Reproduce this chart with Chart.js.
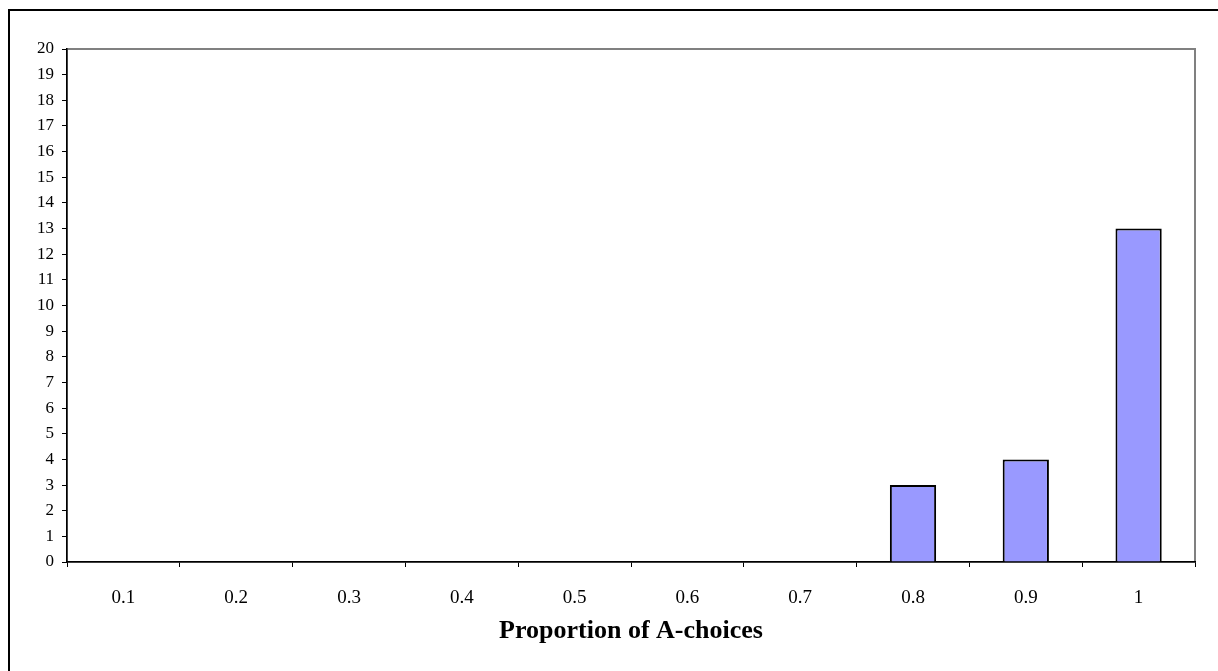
<!DOCTYPE html>
<html lang="en">
<head>
  <meta charset="UTF-8" />
  <title>Proportion of A-choices</title>
  <style>
    body {
      margin: 0;
      background-color: #fff;
      overflow: hidden;
    }
    .frame {
      position: absolute;
      left: 8px;
      top: 9px;
      width: 1300px;
      height: 800px;
      border-left: 2px solid #000;
      border-top: 2px solid #000;
    }
    .chart-box {
      position: absolute;
      left: 0;
      top: 0;
      width: 1218px;
      height: 671px;
    }
  </style>
</head>
<body>
  <div class="frame"></div>
  <div class="chart-box">
    <canvas id="histChart"></canvas>
  </div>

  <script src="https://cdn.jsdelivr.net/npm/chart.js"></script>
  <script>
    // categories on the x axis
    const proportions = ['0.1', '0.2', '0.3', '0.4', '0.5', '0.6', '0.7', '0.8', '0.9', '1'];
    // number of subjects per category
    const counts = [0, 0, 0, 0, 0, 0, 0, 3, 4, 13];
    const axisTitle = 'Proportion of A-choices';
    const yMax = 20;

    const fontFamily = '"Liberation Serif", "Times New Roman", serif';

    // gray frame round the plot area (top and right edges show)
    const plotFrame = {
      id: 'plotFrame',
      beforeDraw(chart) {
        const a = chart.chartArea;
        const ctx = chart.ctx;
        ctx.save();
        ctx.strokeStyle = '#808080';
        ctx.lineWidth = 2;
        ctx.strokeRect(a.left, a.top, a.right - a.left, a.bottom - a.top);
        ctx.restore();
      }
    };

    const ctx = document.getElementById('histChart').getContext('2d');
    new Chart(ctx, {
      type: 'bar',
      data: {
        labels: proportions,
        datasets: [{
          data: counts,
          backgroundColor: '#9999ff',
          borderColor: '#000',
          borderWidth: 2,
          categoryPercentage: 1,
          barPercentage: 0.41
        }]
      },
      plugins: [plotFrame],
      options: {
        responsive: true,
        maintainAspectRatio: false,
        animation: false,
        layout: {
          padding: { left: 0, top: 49, right: 23, bottom: 24 }
        },
        plugins: {
          legend: { display: false },
          tooltip: { enabled: false }
        },
        scales: {
          x: {
            offset: true,
            afterFit(scale) { scale.height = 85; },
            grid: {
              offset: true,
              drawOnChartArea: false,
              color: '#000',
              tickLength: 5
            },
            border: { color: '#000', width: 1.5 },
            ticks: {
              color: '#000',
              padding: 20,
              font: { family: fontFamily, size: 19 }
            },
            title: {
              display: true,
              text: axisTitle,
              color: '#000',
              padding: { top: 0, bottom: 0 },
              font: { family: fontFamily, size: 26, weight: 'bold' }
            }
          },
          y: {
            min: 0,
            max: yMax,
            afterFit(scale) { scale.width = 67; },
            grid: {
              drawOnChartArea: false,
              color: '#000',
              tickLength: 5
            },
            border: { color: '#000', width: 1.5 },
            ticks: {
              stepSize: 1,
              color: '#000',
              padding: 8,
              font: { family: fontFamily, size: 17 }
            }
          }
        }
      }
    });
  </script>
</body>
</html>
